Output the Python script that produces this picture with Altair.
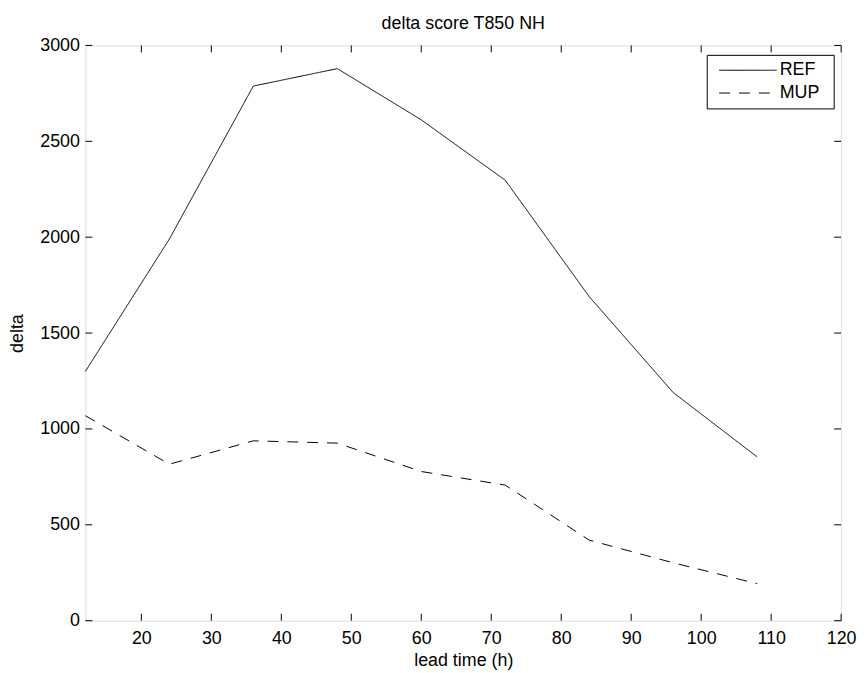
import altair as alt
import pandas as pd

# ---- data ----
lead_time = [12, 24, 36, 48, 60, 72, 84, 96, 108]
ref_values = [1300, 1990, 2788, 2879, 2612, 2297, 1690, 1190, 854]
mup_values = [1069, 816, 938, 926, 778, 707, 420, 302, 193]
series_names = ["REF", "MUP"]
series_dashes = [[1, 0], [11, 9]]
x_ticks = [20, 30, 40, 50, 60, 70, 80, 90, 100, 110, 120]
y_ticks = [0, 500, 1000, 1500, 2000, 2500, 3000]
chart_title = "delta score T850 NH"

W, H = 762, 580
FONT = "Liberation Sans"
FS = 18
TICK = 7

df = pd.DataFrame({
    "lead": lead_time * 2,
    "delta": ref_values + mup_values,
    "series": ["REF"] * len(lead_time) + ["MUP"] * len(lead_time),
})
xt = pd.DataFrame({"v": x_ticks})
yt = pd.DataFrame({"v": y_ticks})

xs = alt.Scale(domain=[12, 120], nice=False, zero=False)
ys = alt.Scale(domain=[0, 3000], nice=False, zero=False)

x_axis = alt.Axis(
    values=x_ticks, title="lead time (h)", domain=False, ticks=False, grid=False, format="d",
    labelFont=FONT, labelFontSize=FS, labelColor="black", labelPadding=9,
    labelFlush=False, labelOverlap=False,
    titleFont=FONT, titleFontSize=FS, titleFontWeight="normal", titleColor="black",
    titleX=W / 2, titleY=40, titleBaseline="middle", titleAlign="center")
y_axis = alt.Axis(
    values=y_ticks, title="delta", domain=False, ticks=False, grid=False, format="d",
    labelFont=FONT, labelFontSize=FS, labelColor="black", labelPadding=6,
    labelFlush=False, labelOverlap=False,
    titleFont=FONT, titleFontSize=FS, titleFontWeight="normal", titleColor="black",
    titleX=-68, titleY=H / 2, titleAngle=270, titleBaseline="middle", titleAlign="center")

lines = alt.Chart(df).mark_line(color="black", strokeWidth=1).encode(
    x=alt.X("lead:Q", scale=xs, axis=x_axis, title="lead time (h)"),
    y=alt.Y("delta:Q", scale=ys, axis=y_axis, title="delta"),
    strokeDash=alt.StrokeDash("series:N", scale=alt.Scale(domain=series_names, range=series_dashes),
                              legend=None),
)

def xtick(y0, y1):
    return alt.Chart(xt).mark_rule(color="black", strokeWidth=1).encode(
        x=alt.X("v:Q", scale=xs, axis=x_axis, title="lead time (h)"), y=alt.value(y0), y2=alt.value(y1))

def ytick(x0, x1):
    return alt.Chart(yt).mark_rule(color="black", strokeWidth=1).encode(
        y=alt.Y("v:Q", scale=ys, axis=y_axis, title="delta"), x=alt.value(x0), x2=alt.value(x1))

# ---- legend box (MATLAB style) ----
LX0, LX1, LY0, LY1 = 627, 755, 10, 64
row_y = [25, 48]
legend_layers = [
    alt.Chart(pd.DataFrame({"a": [0]})).mark_rect(fill="white", stroke="black", strokeWidth=1).encode(
        x=alt.value(LX0), x2=alt.value(LX1), y=alt.value(LY0), y2=alt.value(LY1))
]
for name, dash, ry in zip(series_names, series_dashes, row_y):
    ld = pd.DataFrame({"series": [name]})
    legend_layers.append(alt.Chart(ld).mark_rule(color="black", strokeWidth=1, strokeDash=dash).encode(
        x=alt.value(639), x2=alt.value(697), y=alt.value(ry)))
    legend_layers.append(alt.Chart(ld).mark_text(font=FONT, fontSize=FS, color="black", align="left",
                                                 baseline="middle").encode(
        text="series:N", x=alt.value(700), y=alt.value(ry)))

title_layer = alt.Chart(pd.DataFrame({"t": [chart_title]})).mark_text(
    font=FONT, fontSize=FS, color="black", align="center", baseline="middle").encode(
    text="t:N", x=alt.value(W / 2), y=alt.value(-22))

chart = alt.layer(
    lines, xtick(H, H - TICK), xtick(0, TICK), ytick(0, TICK), ytick(W, W - TICK),
    *legend_layers, title_layer
).properties(
    width=W, height=H,
    autosize=alt.AutoSizeParams(type="none"),
    padding={"left": 78, "top": 35, "right": 17, "bottom": 50},
).configure_view(stroke="black", strokeWidth=1).configure(background="white")

chart.save("out.html", embed_options={"renderer": "svg", "actions": False})
